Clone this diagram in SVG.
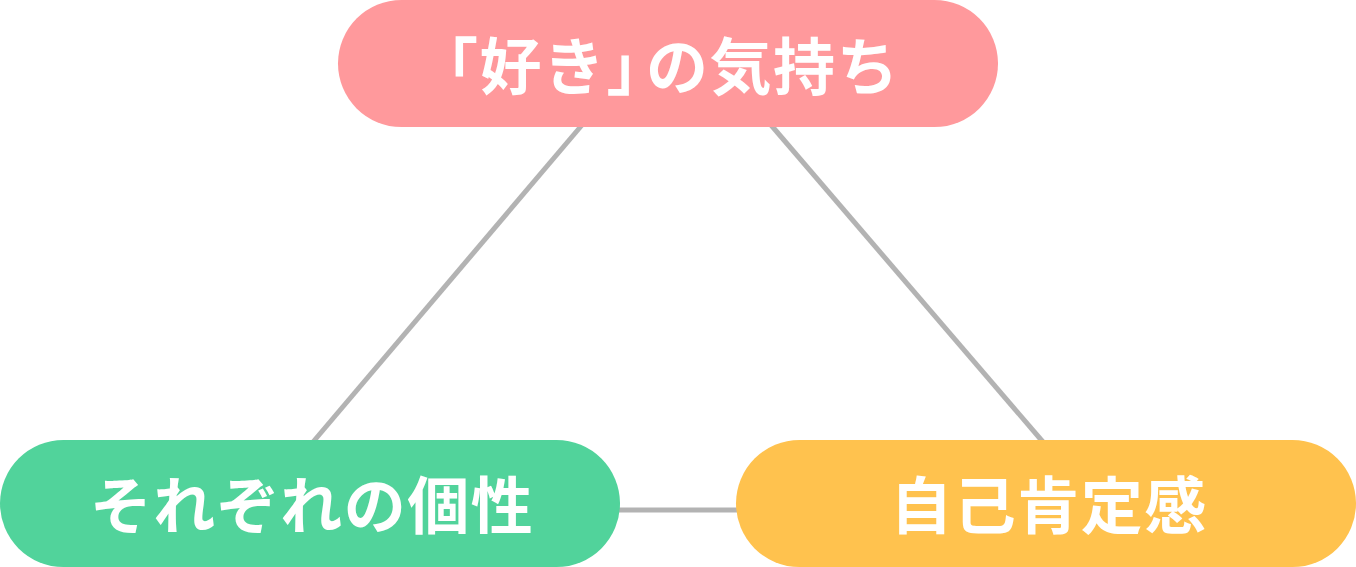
<svg xmlns="http://www.w3.org/2000/svg" width="1356" height="567" viewBox="0 0 1356 567">
<style>
.lbl{font-family:"Noto Sans CJK JP","Noto Sans CJK SC",sans-serif;font-weight:700;font-size:62px;fill:#ffffff;text-anchor:middle;letter-spacing:1.5px}
.conn{stroke:#b3b3b3;stroke-width:5;fill:none}
</style>
<rect width="1356" height="567" fill="#ffffff"/>
<g id="connectors">
<line class="conn" x1="582" y1="125" x2="313" y2="442"/>
<line class="conn" x1="771" y1="125" x2="1043" y2="442"/>
<line class="conn" x1="618" y1="510" x2="738" y2="510"/>
</g>
<g id="node-suki">
<rect x="338" y="0" width="660" height="127" rx="63.5" fill="#ff999c"/>
<text class="lbl" x="658" y="90">「好き」<tspan dx="-24">の気持ち</tspan></text>
</g>
<g id="node-kosei">
<rect x="0" y="440" width="620" height="127" rx="63.5" fill="#51d39b"/>
<text class="lbl" x="312" y="529">それぞれの個性</text>
</g>
<g id="node-jiko">
<rect x="736" y="440" width="620" height="127" rx="63.5" fill="#ffc24e"/>
<text class="lbl" x="1049" y="529">自己肯定感</text>
</g>
</svg>
